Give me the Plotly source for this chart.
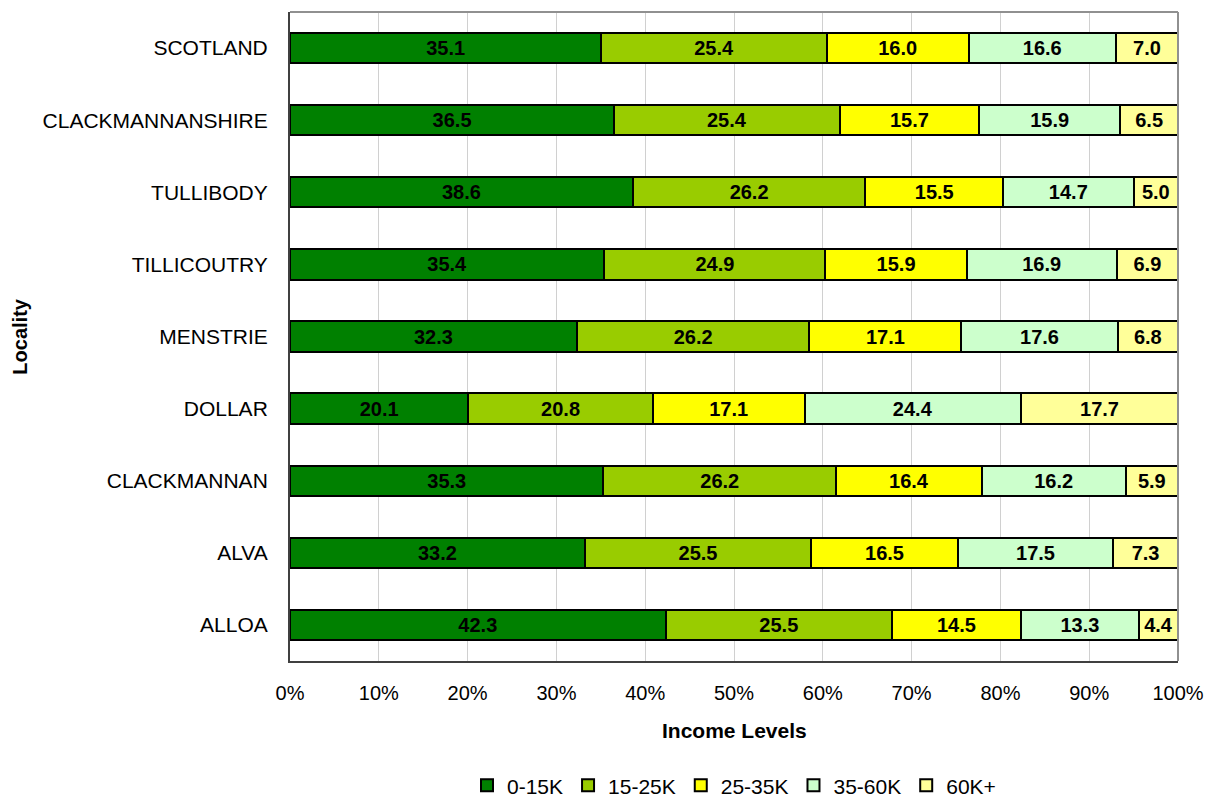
import plotly.graph_objects as go

localities = ["SCOTLAND", "CLACKMANNANSHIRE", "TULLIBODY", "TILLICOUTRY", "MENSTRIE",
              "DOLLAR", "CLACKMANNAN", "ALVA", "ALLOA"]
band_names = ["0-15K", "15-25K", "25-35K", "35-60K", "60K+"]
band_colors = ["#008000", "#99CC00", "#FFFF00", "#CCFFCC", "#FFFF99"]

inc_0_15 = [35.1, 36.5, 38.6, 35.4, 32.3, 20.1, 35.3, 33.2, 42.3]
inc_15_25 = [25.4, 25.4, 26.2, 24.9, 26.2, 20.8, 26.2, 25.5, 25.5]
inc_25_35 = [16.0, 15.7, 15.5, 15.9, 17.1, 17.1, 16.4, 16.5, 14.5]
inc_35_60 = [16.6, 15.9, 14.7, 16.9, 17.6, 24.4, 16.2, 17.5, 13.3]
inc_60_plus = [7.0, 6.5, 5.0, 6.9, 6.8, 17.7, 5.9, 7.3, 4.4]

x_ticks = [0, 10, 20, 30, 40, 50, 60, 70, 80, 90, 100]
x_tick_labels = [f"{t}%" for t in x_ticks]

series = [inc_0_15, inc_15_25, inc_25_35, inc_35_60, inc_60_plus]

FONT = "Liberation Sans, Arial, sans-serif"

fig = go.Figure()
for name, color, vals in zip(band_names, band_colors, series):
    fig.add_trace(go.Bar(
        y=localities, x=vals, name=name, orientation="h",
        marker=dict(color=color, line=dict(color="#000000", width=2)),
        text=[f"{v:.1f}" for v in vals], texttemplate="%{text}",
        textposition="inside", insidetextanchor="middle", textangle=0,
        constraintext="none",
        textfont=dict(family=FONT, size=20, color="#000000", weight="bold"),
    ))

fig.update_layout(
    barmode="stack", barnorm="percent", bargap=0.58,
    width=1208, height=796,
    margin=dict(l=290, r=30, t=12, b=135, autoexpand=False),
    paper_bgcolor="#FFFFFF", plot_bgcolor="#FFFFFF",
    font=dict(family=FONT, size=20, color="#000000"),
    showlegend=True,
    legend=dict(orientation="h", x=0.5, xanchor="center", xref="paper",
                y=0.013, yanchor="middle", yref="container",
                font=dict(family=FONT, size=21, color="#000000"), traceorder="normal",
                itemwidth=30, tracegroupgap=0),
    shapes=[
        dict(type="line", xref="paper", yref="paper", x0=0, x1=1, y0=1, y1=1,
             line=dict(color="#909090", width=2), layer="above"),
        dict(type="line", xref="paper", yref="paper", x0=1, x1=1, y0=0, y1=1,
             line=dict(color="#909090", width=2), layer="above"),
    ],
    annotations=[
        dict(text="<b>Income Levels</b>", xref="paper", yref="paper", x=0.5, y=-0.107,
             xanchor="center", yanchor="middle", showarrow=False,
             font=dict(family=FONT, size=21, color="#000000")),
        dict(text="<b>Locality</b>", xref="paper", yref="paper", x=-0.305, y=0.5,
             xanchor="center", yanchor="middle", showarrow=False, textangle=-90,
             font=dict(family=FONT, size=20, color="#000000")),
    ],
)

fig.update_xaxes(range=[0, 100], tickvals=x_ticks, ticktext=x_tick_labels,
                 showgrid=True, gridcolor="#D0D0D0", gridwidth=1,
                 showline=True, linecolor="#404040", linewidth=2,
                 ticks="", ticklabelstandoff=13, zeroline=False, automargin=False,
                 tickfont=dict(family=FONT, size=20, color="#000000"))
fig.update_yaxes(autorange="reversed", showgrid=False,
                 showline=True, linecolor="#404040", linewidth=2,
                 ticks="", ticklabelstandoff=16, automargin=False,
                 tickfont=dict(family=FONT, size=21, color="#000000"))

fig.write_html("out.html")
